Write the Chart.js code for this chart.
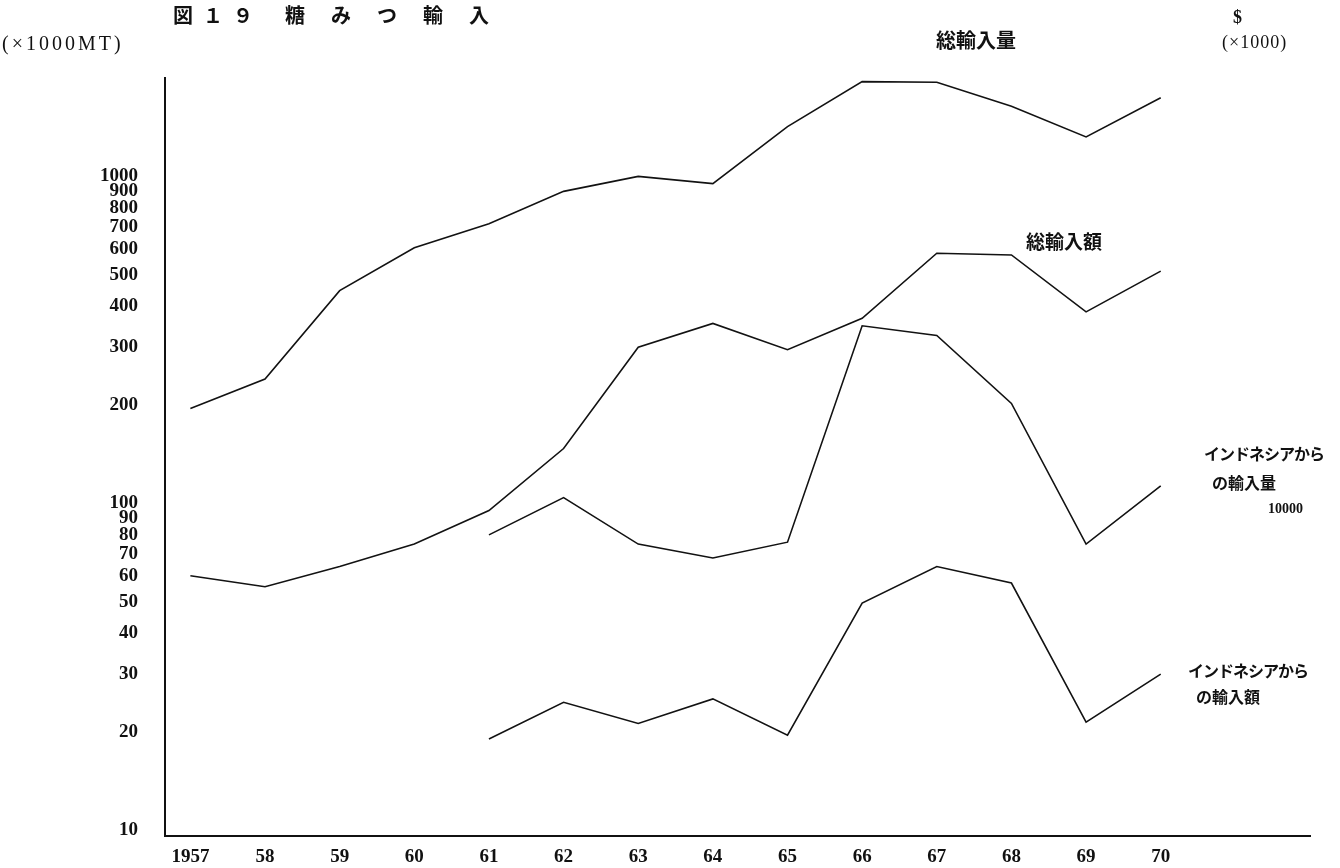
<!DOCTYPE html>
<html lang="ja">
<head>
<meta charset="utf-8">
<title>糖みつ輸入</title>
<script src="https://cdn.jsdelivr.net/npm/chart.js@4.4.1/dist/chart.umd.min.js"></script>
<style>
  html, body { margin: 0; padding: 0; background: #fff; }
  #wrap { position: relative; width: 1340px; height: 868px; overflow: hidden; background: #fff; }
  #c { position: absolute; left: 0; top: 0; }
  .t { position: absolute; white-space: nowrap; color: #111; line-height: 1; }
  .jp { font-family: "Noto Sans CJK JP", "Noto Sans CJK SC", sans-serif; }
  .num { font-family: "Liberation Serif", "DejaVu Serif", serif; font-weight: 700; }
</style>
</head>
<body>
<div id="wrap">
  <canvas id="c" width="1340" height="868"></canvas>

  <!-- figure title -->
  <div class="t jp" style="left:173px;top:5px;font-size:20px;font-weight:700;letter-spacing:10px;">図１９</div>
  <div class="t jp" style="left:285px;top:5px;font-size:20px;font-weight:700;letter-spacing:26px;">糖みつ輸入</div>

  <!-- unit captions -->
  <div class="t num" style="left:2px;top:33px;font-size:20px;font-weight:400;letter-spacing:3px;">(×1000MT)</div>
  <div class="t num" style="left:1233px;top:8px;font-size:18px;">$</div>
  <div class="t num" style="left:1222px;top:33px;font-size:18px;font-weight:400;letter-spacing:1px;">(×1000)</div>

  <!-- series captions -->
  <div class="t jp" style="left:936px;top:30px;font-size:20px;font-weight:700;">総輸入量</div>
  <div class="t jp" style="left:1026px;top:231px;font-size:19px;font-weight:700;">総輸入額</div>
  <div class="t jp" style="left:1204px;top:445px;font-size:16px;font-weight:700;letter-spacing:-1px;">インドネシアから</div>
  <div class="t jp" style="left:1212px;top:474px;font-size:16px;font-weight:700;">の輸入量</div>
  <div class="t num" style="left:1268px;top:502px;font-size:14px;">10000</div>
  <div class="t jp" style="left:1188px;top:662px;font-size:16px;font-weight:700;letter-spacing:-1px;">インドネシアから</div>
  <div class="t jp" style="left:1196px;top:688px;font-size:16px;font-weight:700;">の輸入額</div>
</div>

<script>
// Years on the horizontal axis and the short labels printed under them
const years = [1957, 1958, 1959, 1960, 1961, 1962, 1963, 1964, 1965, 1966, 1967, 1968, 1969, 1970];
const yearLabels = ['1957', '58', '59', '60', '61', '62', '63', '64', '65', '66', '67', '68', '69', '70'];

// 総輸入量 (×1000 MT)
const totalVolume = [195, 240, 447, 605, 716, 900, 1000, 950, 1420, 1950, 1940, 1640, 1320, 1740];
// 総輸入額 ($ ×1000)
const totalValue = [60, 55.5, 64, 75, 95, 147, 300, 355, 295, 368, 582, 575, 385, 513];
// インドネシアからの輸入量
const indonesiaVolume = [null, null, null, null, 80, 104, 75, 68, 76, 349, 326, 202, 75, 113];
// インドネシアからの輸入額
const indonesiaValue = [null, null, null, null, 19, 24.6, 21.2, 25.2, 19.5, 49.5, 64, 57, 21.4, 30];

// Values printed along the vertical (logarithmic) axis
const yTickValues = [10, 20, 30, 40, 50, 60, 70, 80, 90, 100, 200, 300, 400, 500, 600, 700, 800, 900, 1000];

const toPoints = (arr) => years.map((x, i) => ({ x: x, y: arr[i] }));

const lineStyle = {
  borderColor: '#121212',
  borderWidth: 1.6,
  pointRadius: 0,
  tension: 0,
  fill: false
};

const axisFont = { family: '"Liberation Serif", "DejaVu Serif", serif', size: 19, weight: 'bold' };

new Chart(document.getElementById('c'), {
  type: 'line',
  data: {
    datasets: [
      Object.assign({ label: '総輸入量', data: toPoints(totalVolume) }, lineStyle),
      Object.assign({ label: '総輸入額', data: toPoints(totalValue) }, lineStyle),
      Object.assign({ label: 'インドネシアからの輸入量', data: toPoints(indonesiaVolume) }, lineStyle),
      Object.assign({ label: 'インドネシアからの輸入額', data: toPoints(indonesiaValue) }, lineStyle)
    ]
  },
  options: {
    responsive: false,
    animation: false,
    devicePixelRatio: 1,
    layout: { padding: { top: 78, right: 30, left: 0, bottom: 0 } },
    plugins: { legend: { display: false }, tooltip: { enabled: false } },
    scales: {
      x: {
        type: 'linear',
        min: 1956.66,
        max: 1972,
        bounds: 'data',
        grid: { display: false, drawTicks: false },
        border: { display: true, color: '#111', width: 2 },
        afterBuildTicks: (scale) => { scale.ticks = years.map(v => ({ value: v })); },
        afterFit: (scale) => { scale.height = 32; },
        ticks: {
          autoSkip: false,
          maxRotation: 0,
          padding: 10,
          color: '#111',
          font: axisFont,
          callback: (value, index) => yearLabels[index]
        }
      },
      y: {
        type: 'logarithmic',
        min: 9.59,
        max: 2000,
        bounds: 'data',
        grid: { display: false, drawTicks: false },
        border: { display: true, color: '#111', width: 2 },
        afterBuildTicks: (scale) => { scale.ticks = yTickValues.map(v => ({ value: v })); },
        afterFit: (scale) => {
          scale.width = 165;
          // the end labels sit inside the plot, so no extra room above or below
          scale.paddingTop = 0;
          scale.paddingBottom = 0;
        },
        ticks: {
          autoSkip: false,
          padding: 27,
          color: '#111',
          font: axisFont,
          callback: (value) => String(value)
        }
      }
    }
  }
});
</script>
</body>
</html>
